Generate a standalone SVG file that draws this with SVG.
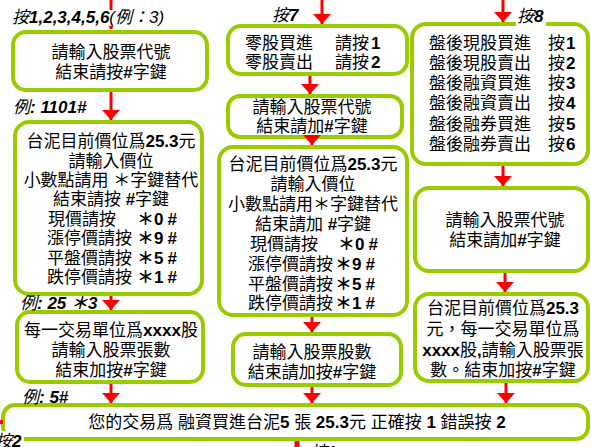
<svg xmlns="http://www.w3.org/2000/svg" width="591" height="447" viewBox="0 0 591 447">
<defs>
<style>
.box{fill:#fff;stroke:#99CC00;stroke-width:4}
.t{font-family:"Liberation Sans","Noto Sans CJK TC",sans-serif;font-size:17px;fill:#000}
.c{text-anchor:middle}
.b{font-weight:bold}
.i{font-style:italic}
.bg{fill:#fff}
#connectors line{stroke:#FF0000;stroke-width:3;marker-end:url(#ah)}
</style>
<marker id="ah" viewBox="0 0 10 18" refX="10" refY="9" markerWidth="10" markerHeight="18" markerUnits="userSpaceOnUse" orient="auto">
<path d="M0,0 L10,9 L0,18 z" fill="#FF0000"/>
</marker>
</defs>
<rect width="591" height="447" fill="#fff"/>

<g id="n-code1">
<rect class="box" x="13" y="32" width="194" height="58" rx="13"/>
<text class="t c" x="111" y="58">請輸入股票代號</text>
<text class="t c" x="111" y="78">結束請按<tspan class="b">#</tspan>字鍵</text>
</g>

<g id="n-price1">
<rect class="box" x="15" y="122" width="187" height="172" rx="14"/>
<text class="t c" x="111" y="147">台泥目前價位爲<tspan class="b">25.3</tspan>元</text>
<text class="t c" x="111" y="167">請輸入價位</text>
<text class="t c" x="111" y="186">小數點請用 ＊字鍵替代</text>
<text class="t c" x="111" y="205">結束請按 <tspan class="b">#</tspan>字鍵</text>
<text class="t" y="225"><tspan x="48">現價請按</tspan><tspan class="b" x="137">＊0<tspan dx="4">#</tspan></tspan></text>
<text class="t" y="244"><tspan x="47">漲停價請按</tspan><tspan class="b" x="137">＊9<tspan dx="4">#</tspan></tspan></text>
<text class="t" y="264"><tspan x="47">平盤價請按</tspan><tspan class="b" x="137">＊5<tspan dx="4">#</tspan></tspan></text>
<text class="t" y="283"><tspan x="47">跌停價請按</tspan><tspan class="b" x="137">＊1<tspan dx="4">#</tspan></tspan></text>
</g>

<g id="n-qty1">
<rect class="box" x="17" y="312" width="186" height="70" rx="13"/>
<text class="t c" x="111" y="336">每一交易單位爲<tspan class="b">xxxx</tspan>股</text>
<text class="t c" x="111" y="356">請輸入股票張數</text>
<text class="t c" x="111" y="376">結束加按<tspan class="b">#</tspan>字鍵</text>
</g>

<g id="n-odd">
<rect class="box" x="228" y="26" width="179" height="48" rx="13"/>
<text class="t" y="49"><tspan x="245">零股買進</tspan><tspan x="335">請按</tspan><tspan class="b" dx="2">1</tspan></text>
<text class="t" y="68"><tspan x="245">零股賣出</tspan><tspan x="335">請按</tspan><tspan class="b" dx="2">2</tspan></text>
</g>

<g id="n-code2">
<rect class="box" x="228" y="96" width="174" height="41" rx="12"/>
<text class="t c" x="312" y="113">請輸入股票代號</text>
<text class="t c" x="312" y="132">結束請加<tspan class="b">#</tspan>字鍵</text>
</g>

<g id="n-price2">
<rect class="box" x="219" y="147" width="188" height="168" rx="14"/>
<text class="t c" x="313" y="170">台泥目前價位爲<tspan class="b">25.3</tspan>元</text>
<text class="t c" x="313" y="190">請輸入價位</text>
<text class="t c" x="313" y="210">小數點請用＊字鍵替代</text>
<text class="t c" x="313" y="230">結束請加 <tspan class="b">#</tspan>字鍵</text>
<text class="t" y="250"><tspan x="250">現價請按</tspan><tspan class="b" x="338">＊0<tspan dx="4">#</tspan></tspan></text>
<text class="t" y="270"><tspan x="248">漲停價請按</tspan><tspan class="b" x="335">＊9<tspan dx="4">#</tspan></tspan></text>
<text class="t" y="290"><tspan x="248">平盤價請按</tspan><tspan class="b" x="335">＊5<tspan dx="4">#</tspan></tspan></text>
<text class="t" y="309"><tspan x="248">跌停價請按</tspan><tspan class="b" x="335">＊1<tspan dx="4">#</tspan></tspan></text>
</g>

<g id="n-qty2">
<rect class="box" x="233" y="334" width="168" height="51" rx="13"/>
<text class="t c" x="312" y="358">請輸入股票股數</text>
<text class="t c" x="312" y="378">結束請加按<tspan class="b">#</tspan>字鍵</text>
</g>

<g id="n-after">
<rect class="box" x="412" y="24" width="176" height="140" rx="14"/>
<text class="t" y="49"><tspan x="429">盤後現股買進</tspan><tspan x="548">按</tspan><tspan class="b" dx="1">1</tspan></text>
<text class="t" y="69"><tspan x="429">盤後現股賣出</tspan><tspan x="548">按</tspan><tspan class="b" dx="1">2</tspan></text>
<text class="t" y="89"><tspan x="429">盤後融資買進</tspan><tspan x="548">按</tspan><tspan class="b" dx="1">3</tspan></text>
<text class="t" y="109"><tspan x="429">盤後融資賣出</tspan><tspan x="548">按</tspan><tspan class="b" dx="1">4</tspan></text>
<text class="t" y="130"><tspan x="429">盤後融券買進</tspan><tspan x="548">按</tspan><tspan class="b" dx="1">5</tspan></text>
<text class="t" y="150"><tspan x="429">盤後融券賣出</tspan><tspan x="548">按</tspan><tspan class="b" dx="1">6</tspan></text>
</g>

<g id="n-code3">
<rect class="box" x="415" y="188" width="173" height="83" rx="14"/>
<text class="t c" x="505" y="226">請輸入股票代號</text>
<text class="t c" x="505" y="246">結束請加<tspan class="b">#</tspan>字鍵</text>
</g>

<g id="n-qty3">
<rect class="box" x="415" y="294" width="173" height="87" rx="14"/>
<text class="t c" x="503" y="314">台泥目前價位爲<tspan class="b">25.3</tspan></text>
<text class="t c" x="503" y="335">元，每一交易單位爲</text>
<text class="t c" x="503" y="356"><tspan class="b">xxxx</tspan>股<tspan class="b">,</tspan>請輸入股票張</text>
<text class="t c" x="503" y="376">數。結束加按<tspan class="b">#</tspan>字鍵</text>
</g>

<g id="n-confirm">
<rect class="box" x="3" y="405" width="585" height="34" rx="12"/>
<text class="t c" x="297" y="428">您的交易爲 融資買進台泥<tspan class="b">5</tspan> 張  <tspan class="b">25.3</tspan>元 正確按 <tspan class="b">1</tspan> 錯誤按 <tspan class="b">2</tspan></text>
</g>

<g id="connectors">
<line x1="111" y1="-5" x2="111" y2="29"/>
<line x1="111" y1="92" x2="111" y2="120"/>
<line x1="111" y1="296" x2="111" y2="310"/>
<line x1="111" y1="384" x2="111" y2="403"/>
<line x1="322" y1="-5" x2="322" y2="24"/>
<line x1="310" y1="76" x2="310" y2="94"/>
<line x1="312" y1="135" x2="312" y2="145"/>
<line x1="312" y1="317" x2="312" y2="332"/>
<line x1="312" y1="387" x2="312" y2="403"/>
<line x1="503" y1="-5" x2="503" y2="22"/>
<line x1="503" y1="166" x2="503" y2="186"/>
<line x1="505" y1="273" x2="505" y2="292"/>
<line x1="506" y1="383" x2="506" y2="403"/>
<path d="M-20,422 H3" stroke="#FF0000" stroke-width="4" fill="none"/>
<path d="M297,441 V470" stroke="#FF0000" stroke-width="5" fill="none"/>
</g>

<g id="labels">
<rect class="bg" x="8" y="10" width="152" height="16"/>
<text class="t i" x="12" y="23">按<tspan class="b">1,2,3,4,5,6</tspan>(例：3)</text>
<text class="t i" x="13" y="113">例<tspan class="b">:  1101#</tspan></text>
<text class="t i" x="20" y="309">例<tspan class="b">: 25 ＊3</tspan></text>
<text class="t i" x="22" y="403">例<tspan class="b">: 5#</tspan></text>
<text class="t i" x="272" y="21">按<tspan class="b">7</tspan></text>
<rect class="bg" x="516" y="8" width="30" height="19"/>
<text class="t i" x="517" y="22">按<tspan class="b">8</tspan></text>
<rect class="bg" x="-6" y="431" width="30" height="16"/>
<text class="t i" x="-5" y="447">按<tspan class="b">2</tspan></text>
<text class="t i" x="310" y="458">按<tspan class="b">1</tspan></text>
</g>
</svg>
